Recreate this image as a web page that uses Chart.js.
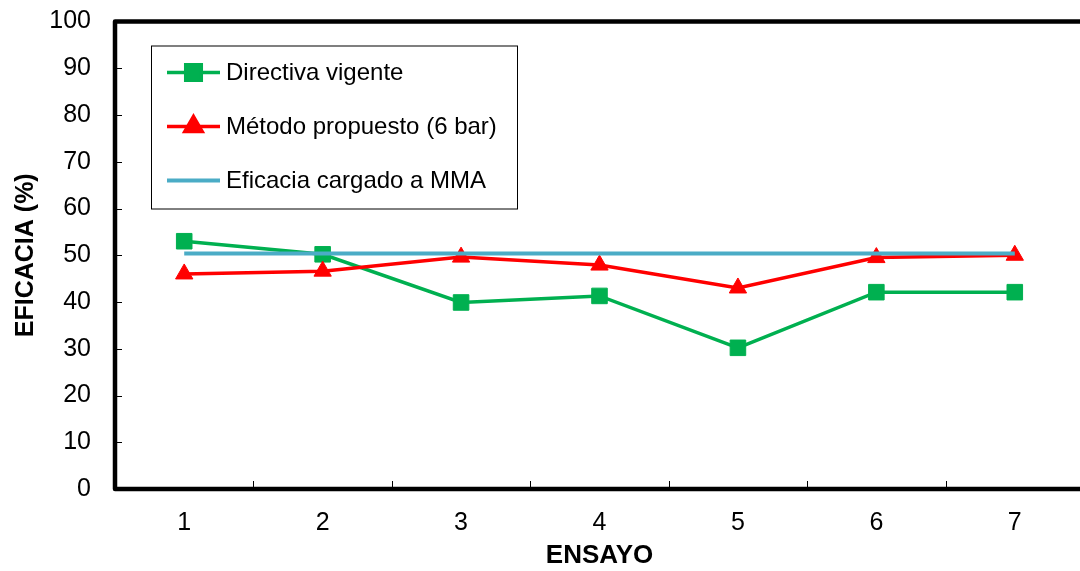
<!DOCTYPE html>
<html>
<head>
<meta charset="utf-8">
<script src="https://cdn.jsdelivr.net/npm/chart.js@4.4.1/dist/chart.umd.min.js"></script>
<style>
  html, body { margin: 0; padding: 0; background: #fff; overflow: hidden; }
  #wrap { width: 1096px; height: 571px; }
</style>
</head>
<body>
<div id="wrap"><canvas id="c" width="1096" height="571"></canvas></div>
<script>
// Trial numbers (x axis)
const ensayos = ['1', '2', '3', '4', '5', '6', '7'];
// Efficacy (%) per trial
const directivaVigente = [53.0, 50.2, 39.9, 41.3, 30.2, 42.1, 42.1];
const metodoPropuesto = [46.0, 46.6, 49.6, 47.9, 43.0, 49.5, 50.0];
const eficaciaMMA = [50.4, 50.4, 50.4, 50.4, 50.4, 50.4, 50.4];
// Y axis range
const yMin = 0, yMax = 100, yStep = 10;

const FONT = "'Liberation Sans', Arial, sans-serif";

// Heavy frame around the plot area plus short inward tick marks
const framePlugin = {
  id: 'frame',
  afterDatasetsDraw(chart) {
    const { ctx, chartArea: a, scales } = chart;
    ctx.save();
    ctx.strokeStyle = '#000';
    // y ticks (pointing into the plot)
    ctx.lineWidth = 1;
    scales.y.ticks.forEach((t, i) => {
      const py = Math.round(scales.y.getPixelForTick(i)) + 0.5;
      ctx.beginPath();
      ctx.moveTo(a.left, py);
      ctx.lineTo(a.left + 7, py);
      ctx.stroke();
    });
    // x ticks between categories
    const n = scales.x.ticks.length;
    for (let i = 0; i < n - 1; i++) {
      const px = Math.round((scales.x.getPixelForTick(i) + scales.x.getPixelForTick(i + 1)) / 2) + 0.5;
      ctx.beginPath();
      ctx.moveTo(px, a.bottom);
      ctx.lineTo(px, a.bottom - 8);
      ctx.stroke();
    }
    // frame
    ctx.lineWidth = 4.5;
    ctx.lineJoin = 'round';
    ctx.strokeRect(a.left, a.top, a.right - a.left, a.bottom - a.top);
    ctx.restore();
  }
};

// Boxed legend drawn inside the plot area
const boxLegendPlugin = {
  id: 'boxLegend',
  afterDraw(chart) {
    const { ctx, chartArea: a } = chart;
    const x0 = a.left + 36, y0 = a.top + 24, w = 366, h = 163;
    ctx.save();
    ctx.fillStyle = '#fff';
    ctx.fillRect(x0, y0, w, h);
    ctx.strokeStyle = '#000';
    ctx.lineWidth = 1;
    ctx.strokeRect(x0 + 0.5, y0 + 0.5, w, h);
    chart.data.datasets.forEach((ds, i) => {
      const cy = y0 + 27 + i * 54;
      const lx1 = x0 + 16, lx2 = x0 + 69;
      ctx.strokeStyle = ds.borderColor;
      ctx.lineWidth = ds.borderWidth;
      ctx.beginPath();
      ctx.moveTo(lx1, cy);
      ctx.lineTo(lx2, cy);
      ctx.stroke();
      if (ds.pointRadius > 0) {
        ctx.fillStyle = ds.pointBackgroundColor;
        ctx.strokeStyle = ds.pointBorderColor;
        Chart.helpers.drawPoint(ctx, {
          pointStyle: ds.pointStyle,
          radius: ds.pointRadius,
          borderWidth: ds.pointBorderWidth,
          rotation: 0
        }, (lx1 + lx2) / 2, cy);
      }
      ctx.fillStyle = '#000';
      ctx.font = '24px ' + FONT;
      ctx.textBaseline = 'middle';
      ctx.textAlign = 'left';
      ctx.fillText(ds.label, x0 + 75, cy + 1);
    });
    ctx.restore();
  }
};

new Chart(document.getElementById('c'), {
  type: 'line',
  data: {
    labels: ensayos,
    datasets: [
      {
        label: 'Directiva vigente',
        data: directivaVigente,
        borderColor: '#00B050',
        backgroundColor: '#00B050',
        borderWidth: 3.5,
        pointStyle: 'rect',
        pointRadius: 11,
        pointBackgroundColor: '#00B050',
        pointBorderColor: '#00B050',
        pointBorderWidth: 1,
        order: 3
      },
      {
        label: 'Método propuesto (6 bar)',
        data: metodoPropuesto,
        borderColor: '#FF0000',
        backgroundColor: '#FF0000',
        borderWidth: 3.5,
        pointStyle: 'triangle',
        pointRadius: 10,
        pointBackgroundColor: '#FF0000',
        pointBorderColor: '#FF0000',
        pointBorderWidth: 1,
        order: 2
      },
      {
        label: 'Eficacia cargado a MMA',
        data: eficaciaMMA,
        borderColor: '#4BACC6',
        backgroundColor: '#4BACC6',
        borderWidth: 4,
        pointRadius: 0,
        order: 1
      }
    ]
  },
  options: {
    responsive: false,
    animation: false,
    devicePixelRatio: 1,
    layout: { padding: { top: 21.5, right: 0, left: 0, bottom: 0 } },
    plugins: {
      legend: { display: false },
      tooltip: { enabled: false }
    },
    elements: { line: { tension: 0 } },
    scales: {
      x: {
        type: 'category',
        offset: true,
        grid: {
          display: true, drawOnChartArea: false, drawTicks: true,
          tickLength: 19, tickColor: 'rgba(0,0,0,0)', offset: true
        },
        border: { display: false },
        ticks: {
          color: '#000',
          font: { family: FONT, size: 25 },
          padding: 0,
          maxRotation: 0
        },
        title: {
          display: true,
          text: 'ENSAYO',
          color: '#000',
          font: { family: FONT, size: 26, weight: 'bold' },
          padding: { top: 0, bottom: 0 }
        },
        afterFit(scale) {
          scale.height = 82;
          scale.paddingLeft = 0;
          scale.paddingRight = 0;
        }
      },
      y: {
        min: yMin,
        max: yMax,
        grid: {
          display: true, drawOnChartArea: false, drawTicks: true,
          tickLength: 24, tickColor: 'rgba(0,0,0,0)'
        },
        border: { display: false },
        ticks: {
          stepSize: yStep,
          color: '#000',
          font: { family: FONT, size: 25 },
          padding: 0
        },
        title: {
          display: true,
          text: 'EFICACIA (%)',
          color: '#000',
          font: { family: FONT, size: 25, weight: 'bold' },
          padding: { top: 11, bottom: 0 }
        },
        afterFit(scale) { scale.width = 115; }
      }
    }
  },
  plugins: [framePlugin, boxLegendPlugin]
});
</script>
</body>
</html>
